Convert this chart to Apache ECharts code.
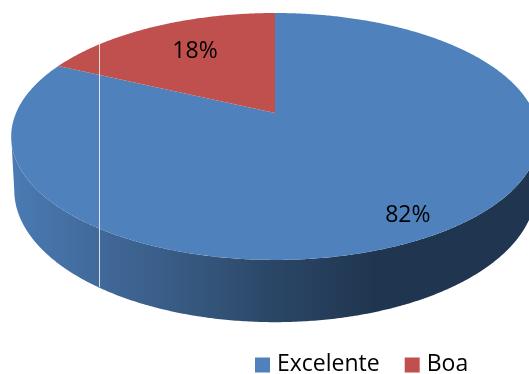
<!DOCTYPE html>
<html>
<head>
<meta charset="utf-8">
<style>html,body{margin:0;padding:0;background:#fff}#c{width:529px;height:374px}</style>
<script src="https://cdn.jsdelivr.net/npm/echarts@6/dist/echarts.min.js"></script>
</head>
<body>
<div id="c"></div>
<script>
const categories = ['Excelente', 'Boa'];
const values = [82, 18];
const labels = ['82%', '18%'];
const colors = ['#4F81BD', '#C0504D'];

// Perspective projection of the disc: top rim and bottom rim
const K = 0.19;
const TOP = {cx: 275, cy: 113, A: 259, B: 119};
const BOT = {cx: 275, cy: 165, A: 256, B: 127.3};
const FRONT_START = Math.acos(-K);                 // right-hand silhouette point
const FRONT_END = 2 * Math.PI - FRONT_START;       // left-hand silhouette point
const LABEL_RHO = [0.83, 0.635];
const LABEL_DY = [6, -4];

function proj(p, theta, rho) {
  const u = Math.sin(theta) * rho, v = Math.cos(theta) * rho, w = 1 + K * v;
  return [p.cx + p.A * u / w, p.cy - p.B * v / w];
}
function arc(p, a, b) {
  const n = Math.max(2, Math.ceil(Math.abs(b - a) * 120)), pts = [];
  for (let i = 0; i <= n; i++) pts.push(proj(p, a + (b - a) * i / n, 1));
  return pts;
}
const wallGradient = new echarts.graphic.LinearGradient(11, 0, 529, 0, [
  {offset: 0, color: '#4A7BB3'},
  {offset: 0.17, color: '#41699A'},
  {offset: 0.35, color: '#36587F'},
  {offset: 0.5, color: '#2B4767'},
  {offset: 0.7, color: '#203650'},
  {offset: 1, color: '#1F3550'}
], true);

const total = values.reduce((s, v) => s + v, 0);
function startOf(i) {
  let s = 0;
  for (let j = 0; j < i; j++) s += values[j];
  return s / total * 2 * Math.PI;
}
function makeRender(i) {
  return function (params, api) {
    const start = startOf(i);
    const end = start + api.value(0) / total * 2 * Math.PI;
    const children = [];
    const a = Math.max(start, FRONT_START), b = Math.min(end, FRONT_END);
    if (b > a) {
      const wall = arc(TOP, a, b).concat(arc(BOT, a, b).reverse());
      children.push({type: 'polygon', shape: {points: wall}, style: {fill: wallGradient}});
    }
    const top = [[TOP.cx, TOP.cy]].concat(arc(TOP, start, end));
    children.push({type: 'polygon', shape: {points: top}, style: {fill: api.visual('color')}});
    const mid = (start + end) / 2, lp = proj(TOP, mid, LABEL_RHO[i]);
    children.push({
      type: 'text', z2: 5,
      style: {
        x: lp[0], y: lp[1] + LABEL_DY[i], text: labels[i], fill: '#000',
        font: '23px "Open Sans"', align: 'center', verticalAlign: 'middle'
      }
    });
    return {type: 'group', children};
  };
}

const chart = echarts.init(document.getElementById('c'), null, {renderer: 'canvas'});
chart.setOption({
  animation: false,
  backgroundColor: '#fff',
  legend: {
    data: categories, left: 255, top: 353, itemWidth: 15, itemHeight: 15, itemGap: 25,
    icon: 'rect', padding: 0, selectedMode: false,
    formatter: '{t|{name}}',
    textStyle: {
      fontFamily: 'Open Sans', fontSize: 23, color: '#000',
      rich: {t: {fontFamily: 'Open Sans', fontSize: 23, color: '#000', lineHeight: 23, padding: [0, 0, 1, 2]}}
    }
  },
  series: categories.map((name, i) => ({
    type: 'custom', name, coordinateSystem: 'none', clip: false,
    itemStyle: {color: colors[i]},
    data: [[values[i]]],
    renderItem: makeRender(i)
  })),
  graphic: [{
    type: 'line', z: 100,
    shape: {x1: 99.5, y1: 44, x2: 99.5, y2: 287},
    style: {stroke: 'rgba(255,255,255,0.8)', lineWidth: 1}
  }]
});
</script>
</body>
</html>
